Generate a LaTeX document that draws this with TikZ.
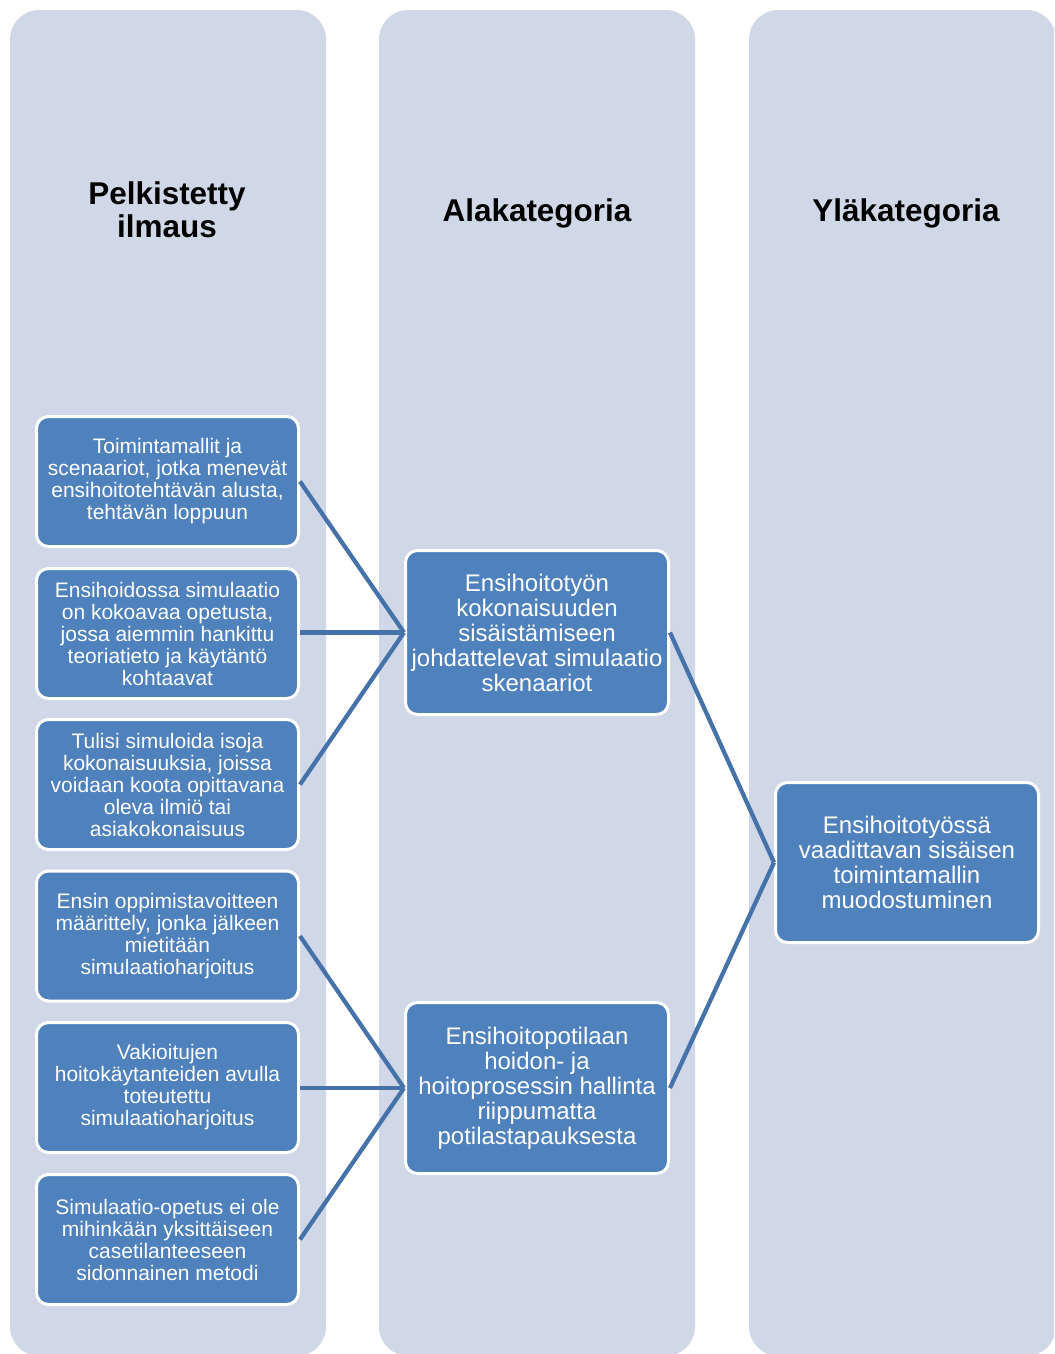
\documentclass[tikz,border=0pt]{standalone}
\usepackage{fontspec}
\setmainfont{Liberation Sans}
\definecolor{colfill}{HTML}{D0D8E8}
\definecolor{boxblue}{HTML}{4F81BD}
\definecolor{linkblue}{HTML}{4672AA}
\begin{document}
\begin{tikzpicture}[x=0.75pt,y=-0.75pt,
  column/.style={fill=colfill,rounded corners=22pt},
  heading/.style={font=\fontsize{23.6}{24.8}\selectfont\bfseries,align=center,text=black},
  itembox/.style={rectangle,rounded corners=9pt,fill=boxblue,draw=white,line width=2.25pt,
    text=white,align=center,inner sep=0pt,minimum width=196.5pt,minimum height=97.5pt,
    font=\fontsize{15.75}{16.5}\selectfont},
  catbox/.style={rectangle,rounded corners=9pt,fill=boxblue,draw=white,line width=2.25pt,
    text=white,align=center,inner sep=0pt,minimum width=197.25pt,
    font=\fontsize{18}{18.75}\selectfont},
  link/.style={draw=linkblue,line width=3.2pt}]
\useasboundingbox (0,0) rectangle (1054,1354);
\clip (0,0) rectangle (1054,1354);

% background columns
\fill[column] (10,10) rectangle (326,1356);
\fill[column] (379,10) rectangle (695,1356);
\fill[column] (749,10) rectangle (1056,1356);

% column headings
\node[heading] (h1) at (167,210) {Pelkistetty\\ilmaus};
\node[heading] (h2) at (537,213) {Alakategoria};
\node[heading] (h3) at (906,213) {Yläkategoria};

% reduced expressions
\node[itembox] (e1) at (167.5,481.5) {Toimintamallit ja\\scenaariot, jotka menevät\\ensihoitotehtävän alusta,\\tehtävän loppuun};
\node[itembox] (e2) at (167.5,633.5) {Ensihoidossa simulaatio\\on kokoavaa opetusta,\\jossa aiemmin hankittu\\teoriatieto ja käytäntö\\kohtaavat};
\node[itembox] (e3) at (167.5,784.5) {Tulisi simuloida isoja\\kokonaisuuksia, joissa\\voidaan koota opittavana\\oleva ilmiö tai\\asiakokonaisuus};
\node[itembox] (e4) at (167.5,936) {Ensin oppimistavoitteen\\määrittely, jonka jälkeen\\mietitään\\simulaatioharjoitus};
\node[itembox] (e5) at (167.5,1087.5) {Vakioitujen\\hoitokäytanteiden avulla\\toteutettu\\simulaatioharjoitus};
\node[itembox] (e6) at (167.5,1239.5) {Simulaatio-opetus ei ole\\mihinkään yksittäiseen\\casetilanteeseen\\sidonnainen metodi};

% subcategories
\node[catbox,minimum height=123pt] (s1) at (537,632.5) {Ensihoitotyön\\kokonaisuuden\\sisäistämiseen\\johdattelevat simulaatio\\skenaariot};
\node[catbox,minimum height=128.25pt] (s2) at (537,1088) {Ensihoitopotilaan\\hoidon- ja\\hoitoprosessin hallinta\\riippumatta\\potilastapauksesta};

% main category
\node[catbox,minimum height=120pt] (m1) at (907,862.5) {Ensihoitotyössä\\vaadittavan sisäisen\\toimintamallin\\muodostuminen};

% connectors
\draw[link] (e1.east) -- (s1.west);
\draw[link] (e2.east |- s1.west) -- (s1.west);
\draw[link] (e3.east) -- (s1.west);
\draw[link] (e4.east) -- (s2.west);
\draw[link] (e5.east |- s2.west) -- (s2.west);
\draw[link] (e6.east) -- (s2.west);
\draw[link] (s1.east) -- (m1.west);
\draw[link] (s2.east) -- (m1.west);
\end{tikzpicture}
\end{document}
